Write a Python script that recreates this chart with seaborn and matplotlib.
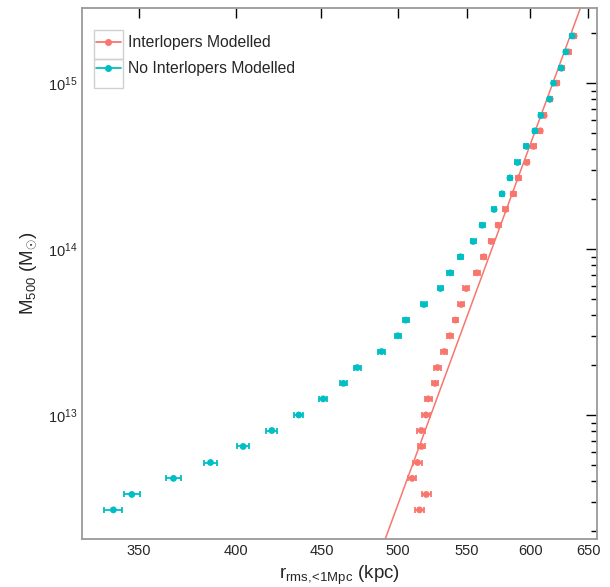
import numpy as np
import pandas as pd
import matplotlib
matplotlib.use('Agg')
import matplotlib.pyplot as plt
import seaborn as sns
from matplotlib.lines import Line2D
from matplotlib.patches import Rectangle

# M500 values shared by both runs (Msun)
mass = [2.68e12, 3.32e12, 4.15e12, 5.17e12, 6.46e12, 8.06e12, 1.00e13, 1.25e13,
        1.55e13, 1.93e13, 2.41e13, 3.00e13, 3.73e13, 4.63e13, 5.78e13, 7.18e13,
        8.97e13, 1.11e14, 1.39e14, 1.73e14, 2.15e14, 2.68e14, 3.32e14, 4.15e14,
        5.15e14, 6.37e14, 7.99e14, 9.97e14, 1.23e15, 1.54e15, 1.92e15]

# r_rms (kpc) with interlopers modelled
r_int = [515.2, 520.0, 510.0, 513.8, 516.6, 516.4, 519.8, 521.4, 526.3, 528.1,
         533.1, 537.2, 541.4, 545.7, 549.4, 557.6, 563.0, 568.7, 574.2, 580.0,
         586.2, 590.3, 597.4, 602.9, 608.5, 611.8, 616.9, 622.6, 626.9, 632.6, 637.6]
err_int = [3.2, 3.1, 3.0, 3.0, 2.7, 2.7, 2.6, 2.4, 2.4, 2.3, 2.3, 2.2, 2.2, 2.1,
           2.1, 2.0, 2.0, 2.0, 1.9, 1.9, 1.9, 1.9, 1.8, 1.8, 1.8, 1.8, 1.8, 1.8,
           1.8, 1.8, 1.8]

# r_rms (kpc) without interlopers modelled
r_noint = [337.8, 346.5, 367.0, 386.2, 404.0, 420.3, 436.2, 451.1, 463.9, 472.8,
           488.9, 500.1, 505.6, 518.3, 530.3, 537.4, 545.1, 554.7, 561.6, 571.0,
           577.3, 583.6, 589.7, 597.0, 604.0, 609.0, 616.3, 619.7, 626.3, 630.4, 635.9]
err_noint = [4.2, 3.8, 3.6, 3.5, 3.2, 3.2, 2.8, 2.4, 2.5, 2.2, 2.2, 2.1, 2.0, 2.1,
             2.0, 2.0, 1.9, 1.9, 1.9, 1.8, 1.8, 1.8, 1.8, 1.7, 1.7, 1.7, 1.7, 1.7,
             1.7, 1.7, 1.7]

# power-law relation (end points)
r_fit = [488.0, 648.0]
m_fit = [1.48e12, 3.48e15]

xticks = [350, 400, 450, 500, 550, 600, 650]
xminor = [325, 375, 425, 475, 525, 575, 625]

red = '#F8766D'
cyan = '#00BFC4'

sns.set_style('white')
plt.rcParams['font.family'] = ['Liberation Sans', 'DejaVu Sans']
plt.rcParams['mathtext.fontset'] = 'custom'
plt.rcParams['mathtext.rm'] = 'Liberation Sans'
plt.rcParams['mathtext.it'] = 'Liberation Sans:italic'

df = pd.DataFrame({
    'r': r_int + r_noint,
    'err': err_int + err_noint,
    'M': mass + mass,
    'run': ['Interlopers Modelled'] * len(r_int) + ['No Interlopers Modelled'] * len(r_noint),
})

fig = plt.figure(figsize=(6.1, 5.87), dpi=100)
ax = fig.add_axes([0.1344, 0.0818, 0.8443, 0.9046])
ax.set_xscale('log')
ax.set_yscale('log')

sns.lineplot(x=r_fit, y=m_fit, color=red, lw=1.1, ax=ax, zorder=1)
for run, col in [('Interlopers Modelled', red), ('No Interlopers Modelled', cyan)]:
    d = df[df['run'] == run]
    ax.errorbar(d['r'], d['M'], xerr=d['err'], fmt='none', ecolor=col,
                elinewidth=1.3, capsize=2.4, capthick=1.3, zorder=2)
sns.scatterplot(data=df, x='r', y='M', hue='run', palette=[red, cyan], s=24,
                edgecolor='none', legend=False, ax=ax, zorder=3)

ax.set_xlim(323.5, 658)
ax.set_ylim(1.79e12, 2.83e15)
ax.set_xticks(xticks, labels=[str(t) for t in xticks])
ax.set_xticks(xminor, minor=True)
ax.set_xticklabels([], minor=True)

ax.tick_params(axis='x', which='major', direction='in', length=7, width=1,
               top=True, labelsize=10.5, color='black')
ax.tick_params(axis='x', which='minor', direction='out', length=4, width=1,
               top=False, color='black')
ax.tick_params(axis='y', which='major', direction='in', length=8, width=1,
               right=True, labelsize=10.5, color='black')
ax.tick_params(axis='y', which='minor', direction='in', length=4, width=1,
               right=True, color='black')
for s in ax.spines.values():
    s.set_color('#9a9a9a')
    s.set_linewidth(1.3)

ax.set_xlabel(r'r$_{\mathregular{rms,\!\!<\!1Mpc}}$ (kpc)', fontsize=13.5)
ax.set_ylabel(r'M$_{\mathregular{500}}$ (M$_{\odot}$)', fontsize=13.5, labelpad=6)

handles = [Line2D([0], [0], color=red, lw=1.3, marker='o', ms=4),
           Line2D([0], [0], color=cyan, lw=1.3, marker='o', ms=4)]
ax.legend(handles, ['Interlopers Modelled', 'No Interlopers Modelled'],
          loc='upper left', bbox_to_anchor=(0.027, 0.949), frameon=False,
          fontsize=11.3, handlelength=1.6, handletextpad=0.45,
          labelspacing=0.7, borderpad=0, borderaxespad=0)

# key boxes around the legend handles
for yb in [1 - 59 / 587, 1 - 88 / 587]:
    fig.patches.append(Rectangle((94 / 610, yb), 29 / 610, 29 / 587,
                                 transform=fig.transFigure, fill=False,
                                 edgecolor='#d0d0d0', lw=1))

fig.savefig('out.png', dpi=100)
